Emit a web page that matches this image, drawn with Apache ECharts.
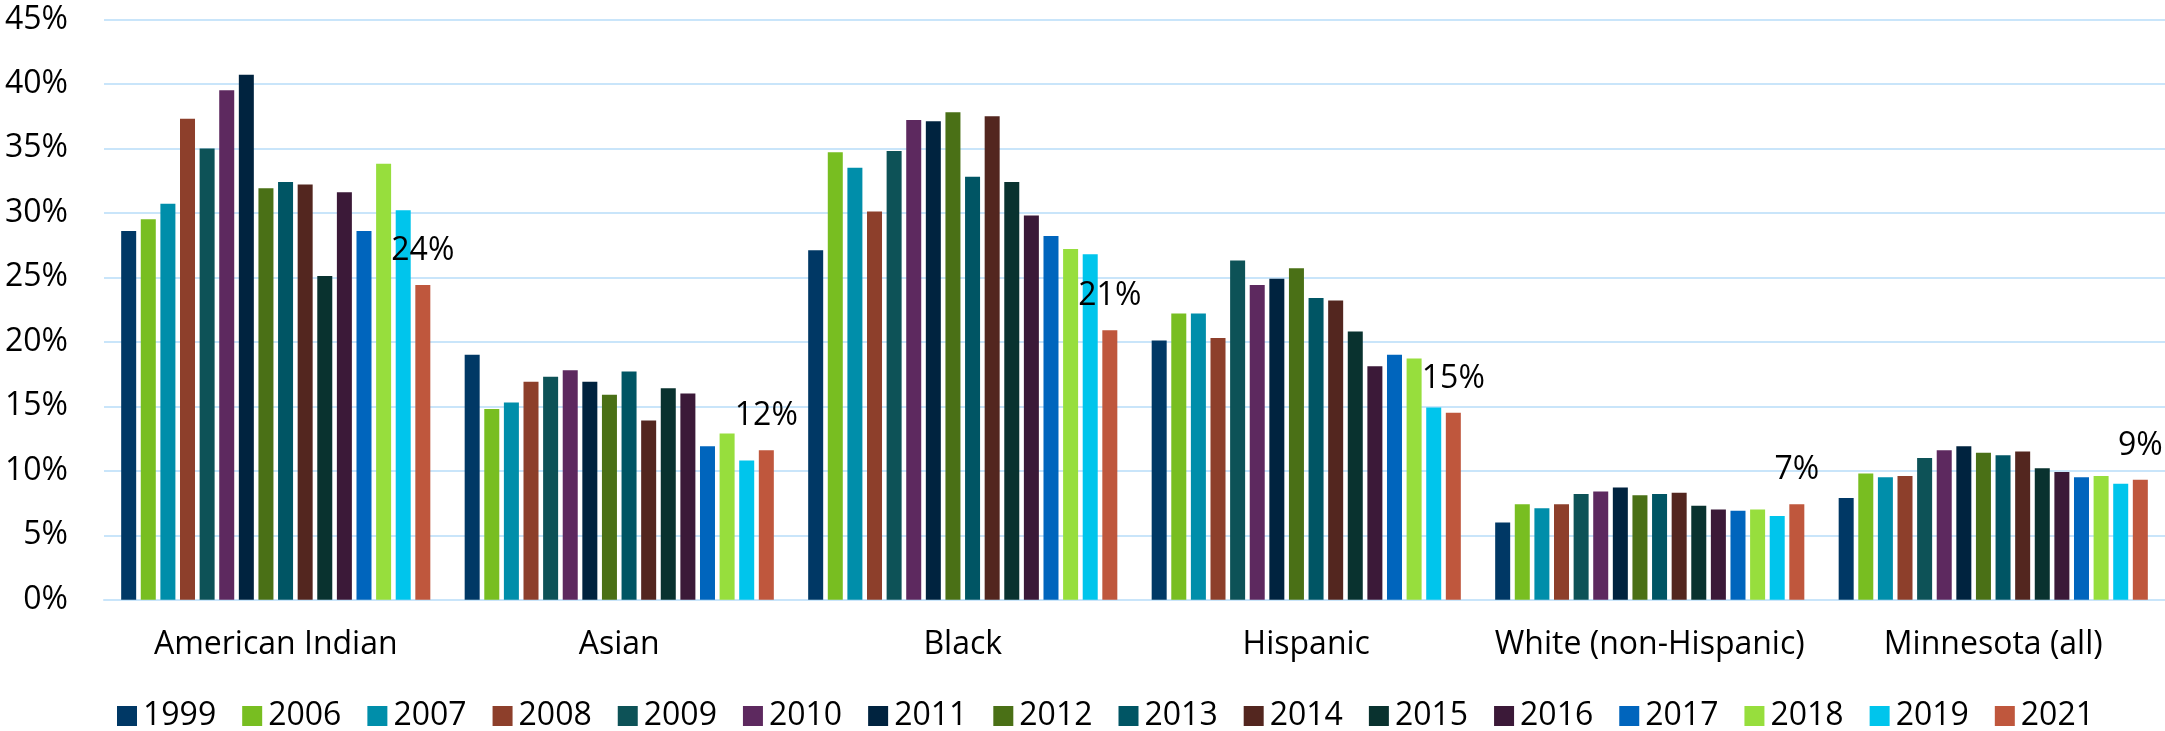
<!DOCTYPE html>
<html>
<head>
<meta charset="utf-8">
<script src="https://cdn.jsdelivr.net/npm/echarts@6/dist/echarts.min.js"></script>
<style>
html,body{margin:0;padding:0;background:#fff;}
#chart{width:2165px;height:731px;}
</style>
</head>
<body>
<div id="chart"></div>
<script>
const categories = ['American Indian','Asian','Black','Hispanic','White (non-Hispanic)','Minnesota (all)'];
const years = ['1999','2006','2007','2008','2009','2010','2011','2012','2013','2014','2015','2016','2017','2018','2019','2021'];
const yTicks = [0,5,10,15,20,25,30,35,40,45];

const americanIndian = [28.6,29.5,30.7,37.3,35.0,39.5,40.7,31.9,32.4,32.2,25.1,31.6,28.6,33.8,30.2,24.4];
const asian          = [19.0,14.8,15.3,16.9,17.3,17.8,16.9,15.9,17.7,13.9,16.4,16.0,11.9,12.9,10.8,11.6];
const black          = [27.1,34.7,33.5,30.1,34.8,37.2,37.1,37.8,32.8,37.5,32.4,29.8,28.2,27.2,26.8,20.9];
const hispanic       = [20.1,22.2,22.2,20.3,26.3,24.4,24.9,25.7,23.4,23.2,20.8,18.1,19.0,18.7,14.9,14.5];
const white          = [6.0,7.4,7.1,7.4,8.2,8.4,8.7,8.1,8.2,8.3,7.3,7.0,6.9,7.0,6.5,7.4];
const minnesota      = [7.9,9.8,9.5,9.6,11.0,11.6,11.9,11.4,11.2,11.5,10.2,9.9,9.5,9.6,9.0,9.3];

const colors = ['#003865','#78BE21','#008EAA','#8D3F2B','#0D5257','#5D295F','#00233F','#4A7016',
                '#005564','#53261F','#09322F','#3B1938','#0065BD','#97DE3D','#00C5EC','#BF573D'];

const groups = [americanIndian, asian, black, hispanic, white, minnesota];
const FONT = '"Open Sans", sans-serif';

const series = years.map((y, i) => ({
  name: y,
  type: 'bar',
  data: groups.map(g => g[i]),
  itemStyle: { color: colors[i] },
  barGap: '30.7%',
  barCategoryGap: '10%',
  label: i === years.length - 1 ? {
    show: true,
    position: 'top',
    distance: 18,
    color: '#000',
    fontFamily: FONT,
    fontSize: 32,
    formatter: p => Math.round(p.value) + '%'
  } : { show: false }
}));

const chart = echarts.init(document.getElementById('chart'), null, { renderer: 'canvas' });
chart.setOption({
  animation: false,
  color: colors,
  grid: { left: 104, right: 0, top: 19.4, bottom: 131.2 },
  legend: {
    left: 117,
    top: 700,
    padding: 0,
    itemWidth: 20,
    itemHeight: 20,
    itemGap: 26,
    icon: 'rect',
    textStyle: { fontFamily: FONT, fontSize: 32, color: '#000', padding: [0,0,0,1] },
    data: years
  },
  xAxis: {
    type: 'category',
    data: categories,
    axisLine: { show: true, lineStyle: { color: '#C9E5FA', width: 2 } },
    axisTick: { show: false },
    axisLabel: { interval: 0, fontFamily: FONT, fontSize: 32, color: '#000', margin: 29 }
  },
  yAxis: {
    type: 'value',
    min: yTicks[0],
    max: yTicks[yTicks.length - 1],
    interval: 5,
    axisLine: { show: false },
    axisTick: { show: false },
    splitLine: { show: true, lineStyle: { color: '#C9E5FA', width: 2 } },
    axisLabel: { fontFamily: FONT, fontSize: 32, color: '#000', margin: 36, formatter: '{value}%' }
  },
  series: series
});
</script>
</body>
</html>
